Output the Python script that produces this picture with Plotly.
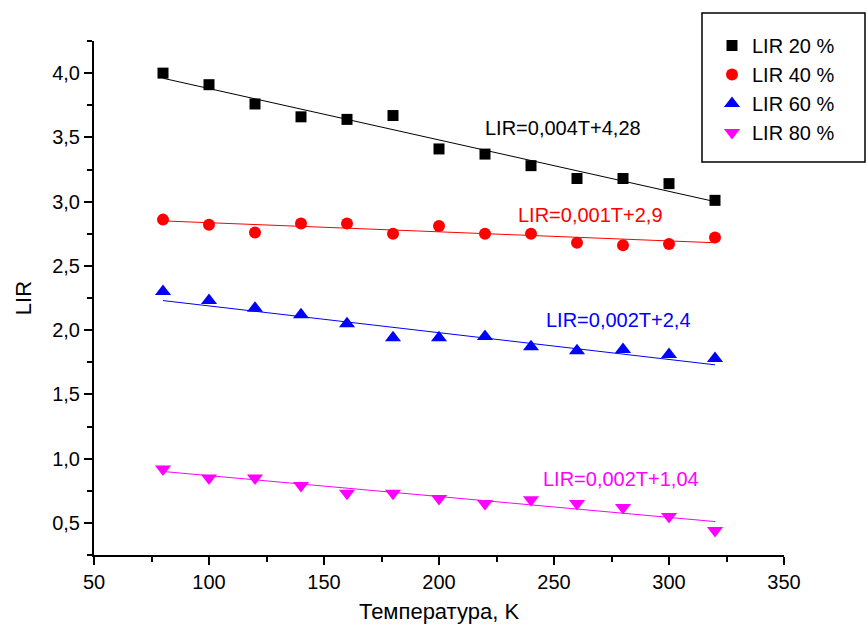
import plotly.graph_objects as go

T = [80, 100, 120, 140, 160, 180, 200, 220, 240, 260, 280, 300, 320]

lir20 = [4.00, 3.91, 3.76, 3.66, 3.64, 3.67, 3.41, 3.37, 3.28, 3.18, 3.18, 3.14, 3.01]
lir40 = [2.86, 2.82, 2.76, 2.83, 2.83, 2.75, 2.81, 2.75, 2.75, 2.68, 2.66, 2.67, 2.72]
lir60 = [2.30, 2.23, 2.17, 2.12, 2.05, 1.94, 1.94, 1.95, 1.87, 1.84, 1.85, 1.81, 1.78]
lir80 = [0.92, 0.85, 0.85, 0.79, 0.73, 0.73, 0.69, 0.65, 0.68, 0.65, 0.62, 0.55, 0.44]

fit_T = [80, 320]
fit20 = [3.96, 3.00]
fit40 = [2.85, 2.68]
fit60 = [2.23, 1.73]
fit80 = [0.90, 0.51]

names = ["LIR 20 %", "LIR 40 %", "LIR 60 %", "LIR 80 %"]
equations = ["LIR=0,004T+4,28", "LIR=0,001T+2,9", "LIR=0,002T+2,4", "LIR=0,002T+1,04"]
eq_pos = [(254, 3.57), (266, 2.895), (278, 2.08), (279, 0.84)]

colors = ["#000000", "#ff0000", "#0000ff", "#ff00ff"]
symbols = ["square", "circle", "triangle-up", "triangle-down"]
sizes = [11, 12, 14, 14]

FONT = "Arial, Liberation Sans, sans-serif"

fig = go.Figure()
for fy, c in zip([fit20, fit40, fit60, fit80], colors):
    fig.add_trace(go.Scatter(x=fit_T, y=fy, mode="lines", line=dict(color=c, width=1),
                             showlegend=False, hoverinfo="skip"))
for ys, n, c, s, sz in zip([lir20, lir40, lir60, lir80], names, colors, symbols, sizes):
    fig.add_trace(go.Scatter(x=T, y=ys, mode="markers", name=n,
                             marker=dict(color=c, symbol=s, size=sz, line=dict(width=0))))

for eq, (ex, ey), c in zip(equations, eq_pos, colors):
    fig.add_annotation(x=ex, y=ey, xref="x", yref="y", text=eq, showarrow=False,
                       font=dict(family=FONT, size=20, color=c))

# legend frame
fig.add_shape(type="rect", xref="paper", yref="paper",
              x0=(702 - 94) / 690, x1=(865 - 94) / 690,
              y0=1 - (162 - 41) / 514, y1=1 + (41 - 13) / 514,
              line=dict(color="black", width=1.5), fillcolor="white", layer="above")

axis_common = dict(showline=True, linecolor="black", linewidth=2, ticks="outside",
                   tickcolor="black", tickwidth=1.5, ticklen=8, showgrid=False,
                   zeroline=False, mirror=False,
                   tickfont=dict(family=FONT, size=20, color="black"),
                   minor=dict(ticks="outside", ticklen=5, tickwidth=1.5, tickcolor="black"))

fig.update_xaxes(range=[50, 350], dtick=50, tick0=50,
                 title=dict(text="Температура, K", font=dict(family=FONT, size=22, color="black"), standoff=12),
                 **axis_common)
fig.update_layout(xaxis_minor_dtick=25)
fig.update_yaxes(range=[0.25, 4.25], dtick=0.5, tick0=0.5, tickformat=".1f",
                 title=dict(text="LIR", font=dict(family=FONT, size=22, color="black"), standoff=14),
                 **axis_common)
fig.update_layout(yaxis_minor_dtick=0.25, yaxis_minor_tick0=0.25)

fig.update_layout(
    width=867, height=633,
    margin=dict(l=94, r=83, t=41, b=78),
    paper_bgcolor="white", plot_bgcolor="white",
    separators=", ",
    font=dict(family=FONT, color="black"),
    legend=dict(x=(712 - 94) / 690, y=1 + (41 - 26) / 514, xanchor="left", yanchor="top",
                bgcolor="rgba(0,0,0,0)", borderwidth=0,
                font=dict(family=FONT, size=20, color="black"), itemwidth=30),
)

fig.write_html("out.html")
